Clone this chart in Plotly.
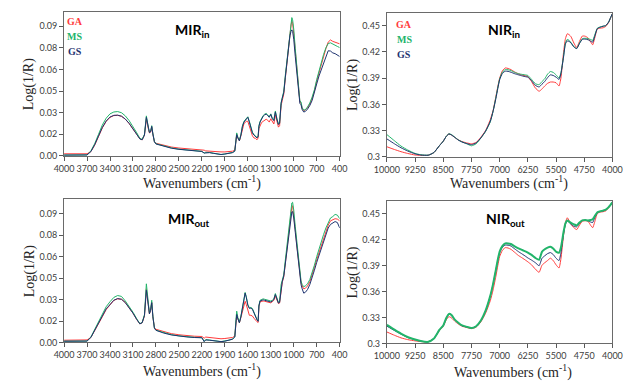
import plotly.graph_objects as go

# ---------------- data ----------------
series_names = ["GA", "MS", "GS"]
series_colors = ["#FF3B3B", "#22B46A", "#1F3470"]

mir_wn = [4000, 3750, 3700, 3650, 3600, 3550, 3500, 3450, 3400, 3350, 3300, 3250, 3200, 3150, 3100, 3050,
          3010, 2980, 2950, 2925, 2900, 2885, 2870, 2855, 2840, 2820, 2800, 2700, 2600, 2500, 2400, 2300,
          2200, 2170, 2150, 2100, 2050, 2000, 1950, 1900, 1850, 1800, 1770, 1755, 1745, 1730, 1710, 1690,
          1670, 1650, 1635, 1620, 1600, 1580, 1560, 1540, 1520, 1500, 1480, 1465, 1455, 1440, 1420, 1400,
          1380, 1360, 1340, 1320, 1300, 1280, 1260, 1240, 1220, 1200, 1185, 1165, 1150, 1130, 1110, 1090,
          1070, 1050, 1035, 1025, 1015, 1000, 980, 960, 940, 920, 905, 890, 870, 850, 820, 790,
          760, 730, 700, 670, 640, 610, 580, 550, 520, 490, 460, 430, 400]

mir_in_ga = [0.0015, 0.0015, 0.0015, 0.0030, 0.0075, 0.0135, 0.0195, 0.0240, 0.0268, 0.0280, 0.0282, 0.0275, 0.0255, 0.0225, 0.0190, 0.0150,
             0.0118, 0.0112, 0.0145, 0.0258, 0.0190, 0.0160, 0.0165, 0.0200, 0.0150, 0.0100, 0.0088, 0.0075, 0.0062, 0.0055, 0.0050, 0.0046,
             0.0044, 0.0040, 0.0035, 0.0032, 0.0030, 0.0030, 0.0028, 0.0028, 0.0030, 0.0033, 0.0040, 0.0110, 0.0150, 0.0125, 0.0105, 0.0140,
             0.0195, 0.0225, 0.0232, 0.0240, 0.0240, 0.0205, 0.0165, 0.0140, 0.0125, 0.0122, 0.0112, 0.0125, 0.0190, 0.0215, 0.0232, 0.0240,
             0.0250, 0.0255, 0.0248, 0.0235, 0.0258, 0.0240, 0.0222, 0.0285, 0.0240, 0.0200, 0.0210, 0.0350, 0.0385, 0.0430, 0.0540, 0.0640,
             0.0760, 0.0850, 0.0910, 0.0935, 0.0920, 0.0850, 0.0720, 0.0590, 0.0460, 0.0375, 0.0365, 0.0330, 0.0315, 0.0318, 0.0335, 0.0360,
             0.0400, 0.0450, 0.0520, 0.0580, 0.0630, 0.0690, 0.0745, 0.0790, 0.0805, 0.0795, 0.0790, 0.0783, 0.0778]
mir_in_ms = [0.0006, 0.0006, 0.0007, 0.0035, 0.0085, 0.0150, 0.0215, 0.0262, 0.0292, 0.0305, 0.0308, 0.0300, 0.0278, 0.0245, 0.0205, 0.0160,
             0.0122, 0.0115, 0.0150, 0.0278, 0.0200, 0.0165, 0.0170, 0.0210, 0.0155, 0.0100, 0.0085, 0.0068, 0.0056, 0.0047, 0.0042, 0.0036,
             0.0032, 0.0020, 0.0025, 0.0024, 0.0020, 0.0015, 0.0010, 0.0014, 0.0020, 0.0024, 0.0035, 0.0120, 0.0160, 0.0130, 0.0108, 0.0150,
             0.0210, 0.0240, 0.0250, 0.0262, 0.0272, 0.0240, 0.0195, 0.0165, 0.0148, 0.0140, 0.0128, 0.0140, 0.0210, 0.0240, 0.0265, 0.0280,
             0.0290, 0.0295, 0.0285, 0.0272, 0.0292, 0.0262, 0.0250, 0.0312, 0.0260, 0.0222, 0.0230, 0.0370, 0.0405, 0.0450, 0.0560, 0.0660,
             0.0780, 0.0875, 0.0935, 0.0960, 0.0945, 0.0880, 0.0745, 0.0605, 0.0470, 0.0380, 0.0375, 0.0335, 0.0318, 0.0320, 0.0340, 0.0368,
             0.0408, 0.0460, 0.0530, 0.0595, 0.0650, 0.0705, 0.0750, 0.0780, 0.0785, 0.0775, 0.0768, 0.0760, 0.0752]
mir_in_gs = [0.0006, 0.0006, 0.0007, 0.0030, 0.0078, 0.0138, 0.0198, 0.0242, 0.0270, 0.0282, 0.0283, 0.0276, 0.0256, 0.0226, 0.0190, 0.0150,
             0.0118, 0.0112, 0.0145, 0.0268, 0.0195, 0.0162, 0.0167, 0.0205, 0.0152, 0.0098, 0.0083, 0.0066, 0.0054, 0.0046, 0.0040, 0.0035,
             0.0031, 0.0020, 0.0022, 0.0023, 0.0018, 0.0014, 0.0010, 0.0013, 0.0020, 0.0023, 0.0033, 0.0110, 0.0148, 0.0125, 0.0105, 0.0145,
             0.0205, 0.0235, 0.0245, 0.0258, 0.0268, 0.0235, 0.0190, 0.0160, 0.0145, 0.0137, 0.0125, 0.0135, 0.0205, 0.0235, 0.0260, 0.0275,
             0.0285, 0.0290, 0.0280, 0.0268, 0.0288, 0.0258, 0.0245, 0.0305, 0.0255, 0.0218, 0.0225, 0.0365, 0.0400, 0.0440, 0.0545, 0.0640,
             0.0755, 0.0835, 0.0865, 0.0875, 0.0865, 0.0810, 0.0690, 0.0565, 0.0445, 0.0365, 0.0355, 0.0322, 0.0305, 0.0308, 0.0325, 0.0350,
             0.0385, 0.0435, 0.0500, 0.0555, 0.0600, 0.0650, 0.0700, 0.0730, 0.0728, 0.0715, 0.0710, 0.0700, 0.0690]

mir_out_ga = [0.0016, 0.0016, 0.0018, 0.0035, 0.0080, 0.0130, 0.0180, 0.0230, 0.0265, 0.0295, 0.0305, 0.0302, 0.0280, 0.0245, 0.0205, 0.0160,
              0.0130, 0.0138, 0.0185, 0.0375, 0.0240, 0.0200, 0.0225, 0.0280, 0.0180, 0.0105, 0.0092, 0.0075, 0.0062, 0.0054, 0.0048, 0.0044,
              0.0042, 0.0030, 0.0038, 0.0035, 0.0030, 0.0028, 0.0026, 0.0028, 0.0030, 0.0035, 0.0045, 0.0140, 0.0190, 0.0165, 0.0138, 0.0175,
              0.0220, 0.0275, 0.0288, 0.0265, 0.0220, 0.0190, 0.0190, 0.0185, 0.0170, 0.0155, 0.0145, 0.0140, 0.0250, 0.0285, 0.0290, 0.0290,
              0.0288, 0.0285, 0.0280, 0.0278, 0.0277, 0.0285, 0.0295, 0.0323, 0.0295, 0.0272, 0.0275, 0.0390, 0.0420, 0.0460, 0.0560, 0.0650,
              0.0740, 0.0840, 0.0920, 0.0950, 0.0955, 0.0900, 0.0790, 0.0680, 0.0570, 0.0475, 0.0420, 0.0395, 0.0375, 0.0378, 0.0395, 0.0425,
              0.0470, 0.0525, 0.0580, 0.0630, 0.0680, 0.0730, 0.0775, 0.0820, 0.0850, 0.0860, 0.0865, 0.0862, 0.0850]
mir_out_ms = [0.0009, 0.0009, 0.0010, 0.0038, 0.0090, 0.0145, 0.0198, 0.0250, 0.0285, 0.0315, 0.0328, 0.0322, 0.0290, 0.0255, 0.0212, 0.0165,
              0.0132, 0.0140, 0.0195, 0.0410, 0.0255, 0.0205, 0.0230, 0.0295, 0.0185, 0.0100, 0.0086, 0.0068, 0.0055, 0.0046, 0.0040, 0.0036,
              0.0034, 0.0008, 0.0020, 0.0018, 0.0015, 0.0010, 0.0006, 0.0010, 0.0016, 0.0024, 0.0040, 0.0160, 0.0219, 0.0175, 0.0140, 0.0185,
              0.0250, 0.0330, 0.0350, 0.0320, 0.0265, 0.0242, 0.0245, 0.0238, 0.0210, 0.0178, 0.0160, 0.0150, 0.0260, 0.0295, 0.0302, 0.0305,
              0.0302, 0.0300, 0.0295, 0.0292, 0.0290, 0.0295, 0.0305, 0.0342, 0.0310, 0.0280, 0.0285, 0.0405, 0.0435, 0.0475, 0.0575, 0.0670,
              0.0760, 0.0860, 0.0945, 0.0975, 0.0980, 0.0925, 0.0810, 0.0695, 0.0580, 0.0485, 0.0430, 0.0405, 0.0390, 0.0395, 0.0410, 0.0440,
              0.0485, 0.0540, 0.0600, 0.0655, 0.0710, 0.0755, 0.0800, 0.0840, 0.0870, 0.0880, 0.0895, 0.0890, 0.0865]
mir_out_gs = [0.0009, 0.0009, 0.0010, 0.0035, 0.0082, 0.0135, 0.0185, 0.0235, 0.0268, 0.0295, 0.0307, 0.0302, 0.0278, 0.0243, 0.0205, 0.0160,
              0.0130, 0.0138, 0.0188, 0.0365, 0.0245, 0.0200, 0.0225, 0.0278, 0.0180, 0.0100, 0.0085, 0.0066, 0.0053, 0.0045, 0.0039, 0.0035,
              0.0033, 0.0006, 0.0018, 0.0016, 0.0012, 0.0008, 0.0006, 0.0009, 0.0015, 0.0023, 0.0038, 0.0145, 0.0196, 0.0165, 0.0138, 0.0180,
              0.0245, 0.0325, 0.0345, 0.0315, 0.0260, 0.0238, 0.0240, 0.0232, 0.0205, 0.0175, 0.0158, 0.0148, 0.0255, 0.0290, 0.0295, 0.0298,
              0.0295, 0.0292, 0.0288, 0.0285, 0.0283, 0.0290, 0.0300, 0.0335, 0.0305, 0.0275, 0.0280, 0.0395, 0.0425, 0.0465, 0.0555, 0.0645,
              0.0730, 0.0820, 0.0890, 0.0912, 0.0915, 0.0870, 0.0770, 0.0660, 0.0550, 0.0460, 0.0405, 0.0375, 0.0345, 0.0350, 0.0370, 0.0405,
              0.0450, 0.0505, 0.0560, 0.0610, 0.0660, 0.0710, 0.0755, 0.0800, 0.0825, 0.0835, 0.0845, 0.0838, 0.0800]

nir_wn = [10000, 9800, 9625, 9450, 9250, 9100, 8900, 8750, 8600, 8500, 8420, 8350, 8280, 8200, 8100, 8000,
          7875, 7750, 7625, 7500, 7375, 7250, 7175, 7100, 7050, 7000, 6925, 6850, 6775, 6700, 6600, 6500,
          6400, 6300, 6250, 6150, 6050, 5950, 5875, 5800, 5725, 5650, 5575, 5500, 5420, 5370, 5300, 5250,
          5200, 5150, 5100, 5025, 4950, 4875, 4800, 4725, 4650, 4575, 4525, 4475, 4400, 4325, 4250, 4175,
          4100, 4050, 4000]

nir_in_ga = [0.3116, 0.3085, 0.3060, 0.3040, 0.3022, 0.3018, 0.3019, 0.3050, 0.3130, 0.3180, 0.3235, 0.3262, 0.3250, 0.3225, 0.3195, 0.3175,
             0.3160, 0.3150, 0.3165, 0.3225, 0.3300, 0.3424, 0.3530, 0.3690, 0.3800, 0.3900, 0.3985, 0.4016, 0.4010, 0.3997, 0.3970, 0.3949,
             0.3935, 0.3925, 0.3918, 0.3860, 0.3787, 0.3750, 0.3775, 0.3810, 0.3840, 0.3855, 0.3855, 0.3847, 0.3810, 0.3900, 0.4192, 0.4350,
             0.4406, 0.4395, 0.4372, 0.4300, 0.4249, 0.4320, 0.4380, 0.4378, 0.4360, 0.4310, 0.4280, 0.4350, 0.4462, 0.4470, 0.4474, 0.4490,
             0.4535, 0.4585, 0.4635]
nir_in_ms = [0.3255, 0.3185, 0.3124, 0.3080, 0.3040, 0.3025, 0.3020, 0.3050, 0.3130, 0.3180, 0.3235, 0.3265, 0.3255, 0.3228, 0.3195, 0.3172,
             0.3150, 0.3127, 0.3150, 0.3215, 0.3290, 0.3400, 0.3520, 0.3680, 0.3790, 0.3890, 0.3970, 0.3997, 0.3995, 0.3986, 0.3965, 0.3950,
             0.3942, 0.3935, 0.3930, 0.3885, 0.3836, 0.3825, 0.3860, 0.3892, 0.3945, 0.3975, 0.3965, 0.3937, 0.3900, 0.3960, 0.4150, 0.4300,
             0.4342, 0.4330, 0.4305, 0.4260, 0.4237, 0.4300, 0.4350, 0.4355, 0.4350, 0.4340, 0.4330, 0.4385, 0.4470, 0.4485, 0.4492, 0.4500,
             0.4540, 0.4588, 0.4635]
nir_in_gs = [0.3206, 0.3150, 0.3105, 0.3068, 0.3035, 0.3022, 0.3020, 0.3050, 0.3130, 0.3180, 0.3235, 0.3262, 0.3250, 0.3225, 0.3192, 0.3170,
             0.3152, 0.3140, 0.3160, 0.3217, 0.3295, 0.3405, 0.3520, 0.3667, 0.3780, 0.3880, 0.3955, 0.3979, 0.3977, 0.3967, 0.3950, 0.3937,
             0.3925, 0.3915, 0.3911, 0.3870, 0.3817, 0.3799, 0.3830, 0.3862, 0.3905, 0.3937, 0.3930, 0.3911, 0.3885, 0.3950, 0.4140, 0.4290,
             0.4324, 0.4318, 0.4300, 0.4255, 0.4237, 0.4295, 0.4342, 0.4345, 0.4338, 0.4320, 0.4310, 0.4370, 0.4465, 0.4480, 0.4492, 0.4500,
             0.4540, 0.4588, 0.4635]

nir_out_ga = [0.3133, 0.3095, 0.3065, 0.3045, 0.3030, 0.3022, 0.3019, 0.3055, 0.3150, 0.3200, 0.3275, 0.3311, 0.3295, 0.3260, 0.3225, 0.3200,
              0.3185, 0.3172, 0.3190, 0.3250, 0.3350, 0.3494, 0.3620, 0.3779, 0.3900, 0.4006, 0.4080, 0.4109, 0.4105, 0.4090, 0.4055, 0.4018,
              0.3990, 0.3961, 0.3945, 0.3910, 0.3860, 0.3824, 0.3905, 0.3935, 0.3960, 0.3987, 0.3960, 0.3911, 0.3874, 0.3980, 0.4250, 0.4400,
              0.4455, 0.4420, 0.4380, 0.4340, 0.4318, 0.4370, 0.4415, 0.4420, 0.4415, 0.4365, 0.4340, 0.4400, 0.4505, 0.4520, 0.4525, 0.4535,
              0.4570, 0.4600, 0.4633]
nir_out_ms = [0.3216, 0.3160, 0.3114, 0.3075, 0.3046, 0.3028, 0.3019, 0.3057, 0.3160, 0.3209, 0.3295, 0.3342, 0.3330, 0.3280, 0.3240, 0.3209,
              0.3192, 0.3179, 0.3200, 0.3266, 0.3380, 0.3551, 0.3690, 0.3855, 0.3970, 0.4063, 0.4130, 0.4158, 0.4158, 0.4151, 0.4125, 0.4101,
              0.4082, 0.4063, 0.4052, 0.4025, 0.3990, 0.3968, 0.4060, 0.4090, 0.4110, 0.4120, 0.4100, 0.4063, 0.4050, 0.4110, 0.4290, 0.4390,
              0.4424, 0.4410, 0.4395, 0.4379, 0.4367, 0.4400, 0.4424, 0.4428, 0.4424, 0.4430, 0.4436, 0.4470, 0.4519, 0.4530, 0.4538, 0.4548,
              0.4578, 0.4605, 0.4633]
nir_out_gs = [0.3201, 0.3150, 0.3108, 0.3070, 0.3044, 0.3027, 0.3019, 0.3057, 0.3160, 0.3209, 0.3292, 0.3340, 0.3325, 0.3275, 0.3238, 0.3205,
              0.3190, 0.3179, 0.3200, 0.3262, 0.3375, 0.3545, 0.3685, 0.3850, 0.3960, 0.4050, 0.4115, 0.4139, 0.4138, 0.4128, 0.4095, 0.4063,
              0.4035, 0.4006, 0.3990, 0.3965, 0.3935, 0.3900, 0.3985, 0.4015, 0.4040, 0.4052, 0.4030, 0.3987, 0.3960, 0.4050, 0.4270, 0.4380,
              0.4420, 0.4400, 0.4380, 0.4356, 0.4350, 0.4390, 0.4424, 0.4426, 0.4420, 0.4405, 0.4400, 0.4450, 0.4515, 0.4528, 0.4535, 0.4545,
              0.4576, 0.4603, 0.4633]

mir_tickvals_x = [4000, 3700, 3400, 3100, 2800, 2500, 2200, 1900, 1600, 1300, 1000, 700, 400]
nir_tickvals_x = [10000, 9250, 8500, 7750, 7000, 6250, 5500, 4750, 4000]
mir_tickvals_y = [0.0, 0.015, 0.03, 0.045, 0.06, 0.075, 0.09]
mir_ticktext_y = ["0.00", "0.02", "0.03", "0.05", "0.06", "0.08", "0.09"]
nir_tickvals_y = [0.30, 0.33, 0.36, 0.39, 0.42, 0.45]
nir_ticktext_y = ["0.3", "0.33", "0.36", "0.39", "0.42", "0.45"]

for arr in [mir_in_ga, mir_in_ms, mir_in_gs, mir_out_ga, mir_out_ms, mir_out_gs]:
    assert len(arr) == len(mir_wn), len(arr)
for arr in [nir_in_ga, nir_in_ms, nir_in_gs, nir_out_ga, nir_out_ms, nir_out_gs]:
    assert len(arr) == len(nir_wn), len(arr)

# ---------------- figure ----------------
W, H = 633, 385
fig = go.Figure()

TICKFONT = dict(family="Lato, Open Sans, sans-serif", size=9, color="#404040")
SERIF = "Liberation Serif, DejaVu Serif, serif"

panels = [
    dict(i=1, x=mir_wn, ys=[mir_in_ga, mir_in_ms, mir_in_gs], xd=(53, 339), yd=(12, 158),
         title="MIR<sub>in</sub>", tpos=(186, 31), xt=(196, 185), ytx=17, leg=(64, 22), kind="mir"),
    dict(i=2, x=nir_wn, ys=[nir_in_ga, nir_in_ms, nir_in_gs], xd=(388, 622), yd=(13, 159),
         title="NIR<sub>in</sub>", tpos=(509, 31), xt=(515, 185), ytx=353, leg=(406, 25), kind="nir"),
    dict(i=3, x=mir_wn, ys=[mir_out_ga, mir_out_ms, mir_out_gs], xd=(53, 339), yd=(202, 347),
         title="MIR<sub>out</sub>", tpos=(183, 222), xt=(196, 375), ytx=18, leg=None, kind="mir"),
    dict(i=4, x=nir_wn, ys=[nir_out_ga, nir_out_ms, nir_out_gs], xd=(388, 622), yd=(204, 348),
         title="NIR<sub>out</sub>", tpos=(511, 222), xt=(519, 376), ytx=353, leg=None, kind="nir"),
]

annotations = []
for p in panels:
    i = p["i"]
    xa = "x" if i == 1 else f"x{i}"
    ya = "y" if i == 1 else f"y{i}"
    order = [0, 1, 2] if i != 4 else [0, 2, 1]
    for k in order:
        width = 2 if (i == 4 and k == 1) else 1
        fig.add_trace(go.Scatter(
            x=p["x"], y=p["ys"][k], mode="lines", name=series_names[k],
            line=dict(color=series_colors[k], width=width,
                      shape="spline" if p["kind"] == "nir" else "linear", smoothing=0.5),
            xaxis=xa, yaxis=ya, showlegend=False, hoverinfo="skip"))
    x0, x1 = p["xd"]
    yt, yb = p["yd"]
    xkey = "xaxis" if i == 1 else f"xaxis{i}"
    ykey = "yaxis" if i == 1 else f"yaxis{i}"
    if p["kind"] == "mir":
        xr, xtv = [4000, 400], mir_tickvals_x
        yr, ytv, ytt = [0, 0.1], mir_tickvals_y, mir_ticktext_y
    else:
        xr, xtv = [10000, 4000], nir_tickvals_x
        yr, ytv, ytt = [0.3, 0.4645], nir_tickvals_y, nir_ticktext_y
    fig.update_layout(**{
        xkey: dict(domain=[x0 / W, x1 / W], range=xr, tickvals=xtv, ticktext=[str(v) for v in xtv],
                   tickangle=0, ticks="outside", ticklen=4,
                   tickcolor="#595959", showline=True, linecolor="#6a6a6a", linewidth=1, mirror=True,
                   showgrid=False, zeroline=False, tickfont=TICKFONT, anchor=ya, fixedrange=True),
        ykey: dict(domain=[1 - yb / H, 1 - yt / H], range=yr, tickvals=ytv, ticktext=ytt, ticks="outside",
                   ticklen=4, tickcolor="#595959", showline=True, linecolor="#6a6a6a", linewidth=1,
                   mirror=True, showgrid=False, zeroline=False, tickfont=TICKFONT, anchor=xa,
                   fixedrange=True),
    })
    annotations.append(dict(text="<b>" + p["title"] + "</b>", x=p["tpos"][0] / W, y=1 - p["tpos"][1] / H,
                            xref="paper", yref="paper", showarrow=False, xanchor="center", yanchor="middle",
                            font=dict(family="Lato, Open Sans, sans-serif", size=14, color="#000000")))
    annotations.append(dict(text="Wavenumbers (cm<sup>-1</sup>)", x=p["xt"][0] / W, y=1 - p["xt"][1] / H,
                            xref="paper", yref="paper", showarrow=False, xanchor="center", yanchor="middle",
                            font=dict(family=SERIF, size=14, color="#262626")))
    annotations.append(dict(text="Log(1/R)", x=p["ytx"] / W, y=1 - ((yt + yb) / 2) / H,
                            xref="paper", yref="paper", showarrow=False, xanchor="center", yanchor="middle",
                            textangle=-90, font=dict(family=SERIF, size=14, color="#262626")))
    if p["leg"] is not None:
        lx, ly = p["leg"]
        for k in range(3):
            annotations.append(dict(text="<b>" + series_names[k] + "</b>", x=lx / W, y=1 - (ly + 15 * k) / H,
                                    xref="paper", yref="paper", showarrow=False, xanchor="center",
                                    yanchor="middle",
                                    font=dict(family=SERIF, size=10, color=series_colors[k])))

fig.update_layout(width=W, height=H, margin=dict(l=0, r=0, t=0, b=0),
                  paper_bgcolor="white", plot_bgcolor="white", annotations=annotations, showlegend=False)

fig.write_html("out.html", config={"displayModeBar": False})
